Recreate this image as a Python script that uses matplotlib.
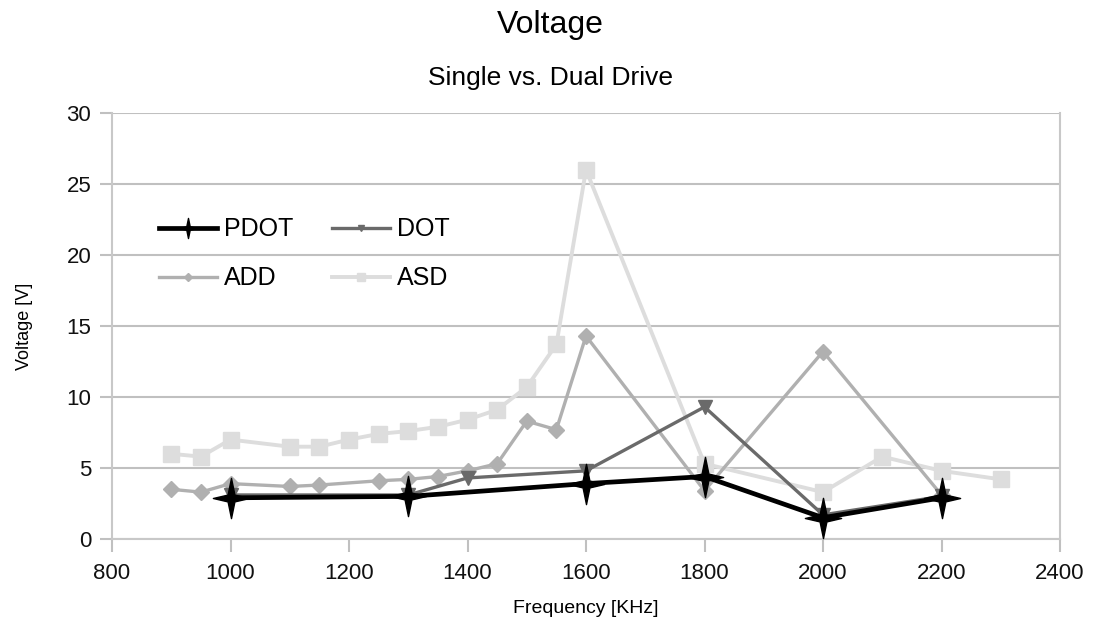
import matplotlib
matplotlib.use("Agg")
import matplotlib.pyplot as plt
from matplotlib.path import Path

plt.rcParams['font.family'] = ['Liberation Sans', 'DejaVu Sans']

# data
pdot_f = [1000, 1300, 1600, 1800, 2000, 2200]
pdot_v = [2.9, 3.0, 3.9, 4.4, 1.5, 2.9]

dot_f = [1000, 1300, 1400, 1600, 1800, 2000, 2200]
dot_v = [3.1, 3.1, 4.3, 4.8, 9.3, 1.7, 3.0]

add_f = [900, 950, 1000, 1100, 1150, 1250, 1300, 1350, 1400, 1450, 1500, 1550, 1600, 1800, 2000, 2200]
add_v = [3.5, 3.3, 3.9, 3.7, 3.8, 4.1, 4.2, 4.4, 4.8, 5.3, 8.3, 7.7, 14.3, 3.4, 13.2, 3.1]

asd_f = [900, 950, 1000, 1100, 1150, 1200, 1250, 1300, 1350, 1400, 1450, 1500, 1550, 1600,
         1800, 2000, 2100, 2200, 2300]
asd_v = [6.0, 5.8, 7.0, 6.5, 6.5, 7.0, 7.4, 7.6, 7.9, 8.4, 9.1, 10.7, 13.7, 26.0,
         5.3, 3.3, 5.8, 4.8, 4.2]

# four point star marker for PDOT
k = 0.17
star = Path([(0, 1), (k, k), (0.9, 0), (k, -k), (0, -1), (-k, -k), (-0.9, 0), (-k, k), (0, 1)],
            [Path.MOVETO] + [Path.LINETO] * 7 + [Path.CLOSEPOLY])

fig = plt.figure(figsize=(10.95, 6.33), dpi=100)
ax = fig.add_axes([112 / 1095, 94 / 633, 948 / 1095, 426 / 633])

l_asd, = ax.plot(asd_f, asd_v, color='#dddddd', lw=2.8, marker='s', ms=12, label='ASD', zorder=2)
l_add, = ax.plot(add_f, add_v, color='#b0b0b0', lw=2.4, marker='D', ms=8.5, label='ADD', zorder=3)
l_dot, = ax.plot(dot_f, dot_v, color='#6a6a6a', lw=2.4, marker='v', ms=10, label='DOT', zorder=4)
l_pdot, = ax.plot(pdot_f, pdot_v, color='#000000', lw=3.4, marker=star, ms=29, label='PDOT', zorder=5)

ax.set_xlim(800, 2400)
ax.set_ylim(0, 30)
ax.set_xticks(range(800, 2401, 200))
ax.set_yticks(range(0, 31, 5))
ax.yaxis.grid(True, color='#c0c0c0', lw=1.5)
ax.set_axisbelow(True)
for s in ['left', 'right', 'bottom']:
    ax.spines[s].set_color('#c8c8c8')
    ax.spines[s].set_linewidth(1.5)
ax.spines['top'].set_visible(False)
ax.tick_params(axis='both', length=9, width=1.5, color='#c0c0c0', labelsize=16, labelcolor='#111111')
ax.tick_params(axis='y', pad=6)
ax.tick_params(axis='x', pad=8)

ax.set_xlabel('Frequency [KHz]', fontsize=14, labelpad=12)
ax.set_ylabel('Voltage [V]', fontsize=13, labelpad=24)

fig.text(0.503, 0.960, 'Voltage', ha='center', va='center', fontsize=23)
fig.text(0.503, 0.876, 'Single vs. Dual Drive', ha='center', va='center', fontsize=19)

ax.legend(handles=[l_pdot, l_add, l_dot, l_asd], ncol=2, frameon=False, fontsize=18,
          loc='upper left', bbox_to_anchor=(0.026, 0.808), markerscale=0.5,
          handlelength=2.3, columnspacing=1.55, labelspacing=1.0, handletextpad=0.3)

fig.savefig('out.png', dpi=100)
